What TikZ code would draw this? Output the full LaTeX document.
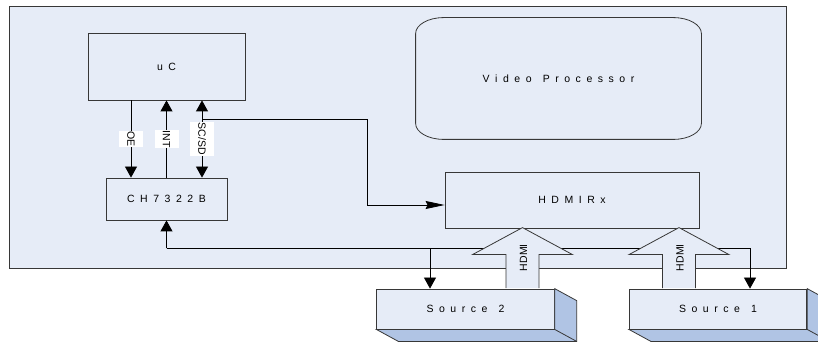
\documentclass[tikz,border=0pt]{standalone}
\usepackage{fontspec}
\setmainfont{Liberation Sans}
\newfontfamily\spaced[WordSpace=1.9]{Liberation Sans}
\usetikzlibrary{arrows.meta,calc}
\definecolor{panel}{RGB}{230,236,247}
\definecolor{depth}{RGB}{176,196,228}
\definecolor{edge}{RGB}{55,55,55}

\begin{document}
\begin{tikzpicture}[x=1pt,y=1pt,font=\fontsize{10.5}{12}\selectfont,
  box/.style={draw=edge,fill=panel,line width=0.8pt,inner sep=0pt,font=\fontsize{10.5}{12}\selectfont\spaced},
  sig/.style={line width=0.8pt,-{Triangle[length=11pt,width=12pt]}},
  tag/.style={fill=white,rotate=-90,inner xsep=0.5pt,inner ysep=0pt,minimum height=24pt}]
\useasboundingbox (0,0) rectangle (818,345);
\draw[edge,fill=panel,line width=0.8pt] (9.5,77) rectangle (786.5,339);

\node[box,minimum width=157pt,minimum height=67pt] (uc) at (166.5,278.5) {u C};
\node[box,minimum width=121pt,minimum height=42pt] (ch) at (166.5,146) {C H 7 3 2 2 B};
\node[box,draw=none,minimum width=285pt,minimum height=121pt] (vp) at (558.5,266.5) {V i d e o~~P r o c e s s o r};
\draw[edge,line width=0.8pt] ([xshift=28pt]vp.north west) -- ([xshift=-28pt]vp.north east)
  arc[start angle=90,end angle=0,x radius=28pt,y radius=16pt] -- ([yshift=16pt]vp.south east)
  arc[start angle=0,end angle=-90,x radius=28pt,y radius=16pt] -- ([xshift=28pt]vp.south west)
  arc[start angle=-90,end angle=-180,x radius=28pt,y radius=16pt] -- ([yshift=-16pt]vp.north west)
  arc[start angle=180,end angle=90,x radius=28pt,y radius=16pt];
\node[box,minimum width=254pt,minimum height=56pt] (rx) at (572,145) {H D M I R x};
\node[box,minimum width=177.5pt,minimum height=40pt] (src2) at (465.5,36) {S o u r c e~~2};
\node[box,minimum width=177.5pt,minimum height=40pt] (src1) at (718,36) {S o u r c e~~1};

\draw[sig] ([xshift=-35.5pt]uc.south) -- node[tag]{OE} ([xshift=-35.5pt]ch.north);
\draw[sig] (ch.north) -- node[tag]{INT} (uc.south);
\draw[sig,{Triangle[length=11pt,width=12pt]}-{Triangle[length=11pt,width=12pt]}]
  ([xshift=35.5pt]uc.south) -- node[tag]{SC/SD} ([xshift=35.5pt]ch.north);

\coordinate (br) at ([xshift=35.5pt,yshift=-19pt]uc.south);
\draw[line width=0.8pt,-{Stealth[length=19pt,width=8pt,inset=2pt]}]
  (br) -| ($(rx.west)+(-77,-5)$) -- ([yshift=-5pt]rx.west);

\coordinate (bus) at ([yshift=-28pt]ch.south);
\draw[sig] (bus) -- (ch.south);
\draw[sig] (bus) -| ([xshift=-35.5pt]src2.north);
\draw[sig] (bus) -| ([xshift=32pt]src1.north);

\foreach \s/\dx in {src2/57,src1/-39} {
  \draw[edge,fill=panel,line width=0.8pt] ($(\s.north)+(\dx-16.5,0.4)$) -- ++(0,33.6) -- ++(-33.5,0)
    -- ++(50,27) -- ++(50,-27) -- ++(-33.5,0) -- ++(0,-33.6);
  \node[rotate=90] at ($(\s.north)+(\dx+1,31)$) {HDMI};
  \draw[edge,fill=depth,line width=0.8pt] (\s.north east) -- ++(22,-12) |- ($(\s.south west)+(22,-12)$)
    -- (\s.south west) -- (\s.south east) -- cycle;
  \draw[edge,line width=0.8pt] (\s.south east) -- ++(22,-12);
}
\end{tikzpicture}
\end{document}
